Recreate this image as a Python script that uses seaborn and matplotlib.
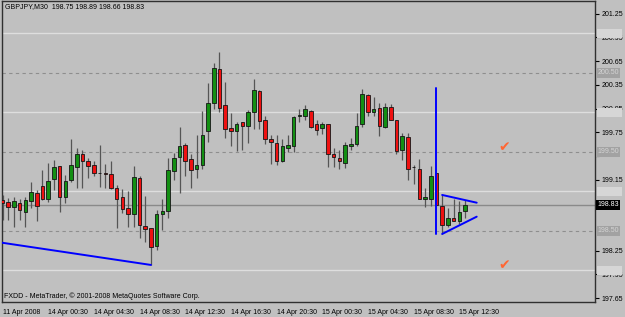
import numpy as np
import pandas as pd
import matplotlib
matplotlib.use("Agg")
import matplotlib.pyplot as plt
import seaborn as sns
from matplotlib import font_manager
from matplotlib.patches import Rectangle

# ---------------- data (GBPJPY M30) ----------------
opens = [
    198.89, 198.87, 198.80, 198.85, 198.74, 198.88, 198.98, 199.07, 198.90, 199.16,
    199.32, 198.93, 199.14, 199.31, 199.48, 199.39, 199.33, 199.23, 199.23, 199.22,
    199.05, 198.93, 198.79, 198.71, 199.17, 198.56, 198.54, 198.31, 198.72, 198.75,
    199.26, 199.44, 199.59, 199.41, 199.28, 199.33, 199.77, 200.12, 200.55, 200.10,
    199.80, 199.77, 199.88, 199.83, 200.00, 200.27, 199.90, 199.67, 199.61, 199.39,
    199.55, 199.58, 199.96, 199.96, 200.02, 199.86, 199.80, 199.85, 199.47, 199.43,
    199.36, 199.57, 199.60, 199.85, 200.22, 200.01, 200.06, 199.81, 200.07, 199.90,
    199.52, 199.69, 199.31, 199.29, 198.90, 198.91, 199.23, 198.82, 198.57, 198.67,
    198.62, 198.75]
highs = [
    198.96, 198.92, 198.93, 198.91, 198.93, 199.12, 199.02, 199.27, 199.36, 199.40,
    199.32, 199.21, 199.67, 199.55, 199.53, 199.42, 199.38, 199.59, 199.35, 199.38,
    199.08, 199.03, 199.01, 199.32, 199.20, 198.94, 198.54, 198.77, 198.91, 199.42,
    199.49, 199.81, 199.61, 199.48, 199.72, 200.02, 200.37, 200.62, 200.76, 200.39,
    199.99, 199.88, 199.88, 200.03, 200.42, 200.29, 199.96, 199.72, 199.72, 199.67,
    199.72, 199.96, 200.04, 200.10, 200.03, 199.91, 199.88, 199.86, 199.55, 199.53,
    199.63, 199.68, 199.99, 200.30, 200.24, 200.19, 200.12, 200.12, 200.11, 199.91,
    199.74, 199.74, 199.34, 199.41, 199.04, 199.32, 199.23, 198.96, 198.79, 198.91,
    198.88, 198.89]
lows = [
    198.64, 198.64, 198.55, 198.64, 198.55, 198.79, 198.62, 198.89, 198.87, 199.02,
    198.74, 198.85, 199.12, 199.04, 199.04, 199.17, 199.20, 199.06, 199.04, 199.03,
    198.54, 198.73, 198.55, 198.55, 198.41, 198.36, 198.07, 198.26, 198.51, 198.66,
    199.15, 198.98, 199.20, 199.04, 199.17, 199.29, 199.63, 200.04, 200.01, 199.68,
    199.58, 199.51, 199.53, 199.61, 199.79, 199.79, 199.60, 199.35, 199.34, 199.37,
    199.50, 199.50, 199.88, 199.91, 199.80, 199.72, 199.73, 199.31, 199.31, 199.29,
    199.30, 199.53, 199.58, 199.82, 199.96, 199.95, 199.70, 199.80, 199.90, 199.47,
    199.40, 199.15, 199.10, 198.90, 198.80, 198.81, 198.83, 198.46, 198.55, 198.62,
    198.59, 198.66]
closes = [
    198.86, 198.80, 198.88, 198.76, 198.89, 198.99, 198.81, 198.91, 199.13, 199.31,
    198.93, 199.13, 199.34, 199.47, 199.39, 199.32, 199.24, 199.23, 199.22, 199.04,
    198.91, 198.78, 198.72, 199.18, 198.57, 198.53, 198.30, 198.72, 198.75, 199.27,
    199.43, 199.58, 199.39, 199.27, 199.34, 199.71, 200.12, 200.56, 200.06, 199.79,
    199.76, 199.86, 199.83, 200.01, 200.29, 199.89, 199.67, 199.62, 199.39, 199.58,
    199.59, 199.94, 199.97, 200.04, 199.82, 199.78, 199.86, 199.48, 199.44, 199.39,
    199.59, 199.60, 199.83, 200.24, 200.00, 200.05, 199.83, 200.07, 199.91, 199.51,
    199.70, 199.29, 199.31, 198.90, 198.93, 199.19, 198.83, 198.58, 198.66, 198.63,
    198.74, 198.83]

time_label_bars = [0, 8, 16, 24, 32, 40, 48, 56, 64, 72, 80]
time_labels = ["11 Apr 2008", "14 Apr 00:30", "14 Apr 04:30", "14 Apr 08:30",
               "14 Apr 12:30", "14 Apr 16:30", "14 Apr 20:30", "15 Apr 00:30",
               "15 Apr 04:30", "15 Apr 08:30", "15 Apr 12:30"]
price_ticks = [201.25, 200.95, 200.65, 200.35, 200.05, 199.75, 199.45,
               199.15, 198.85, 198.55, 198.25, 197.95, 197.65]
# tick labels fully hidden behind the price boxes of the level lines
hidden_tick_labels = [199.45, 198.85, 198.55]

solid_levels = [201.00, 200.00, 199.00, 198.00]
dashed_levels = [200.50, 199.50, 198.50]
bid_price = 198.83

# drawn objects (trend line, vertical line, triangle)
obj_ids = ["trend", "trend", "vline", "vline", "tri_up", "tri_up", "tri_lo", "tri_lo"]
obj_bars = [-0.14, 26.0, 76.0, 76.0, 77.0, 83.05, 77.0, 83.05]
obj_prices = [198.352, 198.07, 198.462, 200.31, 198.956, 198.858, 198.462, 198.681]

check_bars = [87.8, 87.8]
check_prices = [199.56, 198.07]

title_text = "GBPJPY,M30  198.75 198.89 198.66 198.83"
footer_text = "FXDD - MetaTrader, \u00a9 2001-2008 MetaQuotes Software Corp."

# ---------------- styling ----------------
BG = "#c0c0c0"
GREEN = "#138f13"
RED = "#ee1111"
WICK = "#555555"

sns.set_theme(style="white", rc={"axes.facecolor": BG, "figure.facecolor": BG})
names = {f.name for f in font_manager.fontManager.ttflist}
if "Liberation Sans Narrow" in names:
    FONT, FS = "Liberation Sans Narrow", 6.0
else:
    FONT, FS = "Liberation Sans", 5.0
plt.rcParams["font.family"] = [FONT, "DejaVu Sans"]

fig = plt.figure(figsize=(6.25, 3.17), dpi=100)
fig.patch.set_facecolor(BG)
ax = fig.add_axes([2 / 625, 15 / 317, 593 / 625, 301 / 317])
ax.set_facecolor(BG)
ax.grid(False)

o = np.array(opens); h = np.array(highs); l = np.array(lows); c = np.array(closes)
bars = np.arange(len(o))

# horizontal level lines
for p in solid_levels:
    ax.axhline(p, color="#dedede", lw=1.0, zorder=1)
for p in dashed_levels:
    ax.axhline(p, color="#8e8e8e", lw=0.8, ls=(0, (3, 3)), zorder=1)
ax.axhline(bid_price, color="#8a8a8a", lw=1.0, zorder=1)

# candles
up = c >= o
ax.vlines(bars, l, h, color=WICK, lw=0.9, zorder=3)
ax.bar(bars, np.abs(c - o), bottom=np.minimum(o, c), width=0.62,
       color=np.where(up, GREEN, RED), edgecolor="#151515", linewidth=0.6, zorder=4)

# drawn objects through seaborn
objs = pd.DataFrame({"obj": obj_ids, "bar": obj_bars, "price": obj_prices})
sns.lineplot(data=objs, x="bar", y="price", units="obj", estimator=None, sort=False,
             color="#0000ff", lw=1.4, ax=ax, legend=False, zorder=5)

for xb, yp in zip(check_bars, check_prices):
    ax.text(xb, yp, "\u2714", color="#ff6633", fontsize=10, ha="center", va="center",
            family="DejaVu Sans", zorder=6)

ax.set_xlim(-0.09, 103.77)
ax.set_ylim(197.601, 201.411)
ax.set_xlabel("")
ax.set_ylabel("")

# axes / ticks
ax.yaxis.tick_right()
ax.set_yticks(price_ticks,
              labels=["" if p in hidden_tick_labels else f"{p:.2f}" for p in price_ticks])
ax.tick_params(axis="y", length=3, width=0.8, pad=1.5, labelsize=FS, colors="black", direction="out")
ax.set_xticks(time_label_bars, labels=time_labels)
ax.tick_params(axis="x", length=4, width=0.8, pad=1, labelsize=FS, colors="black", direction="out")
for t in ax.get_xticklabels():
    t.set_ha("left")
for s in ax.spines.values():
    s.set_color("#303030")
    s.set_linewidth(1.0)
    s.set_visible(True)

# right-axis price boxes
ytr = ax.get_yaxis_transform()
def price_box(p, fc, tc):
    ax.text(1.004, p, f"{p:.2f}", transform=ytr, ha="left", va="center", fontsize=FS,
            color=tc, bbox=dict(boxstyle="square,pad=0.18", fc=fc, ec="none"),
            clip_on=False, zorder=10)

# light level lines: their scale labels are light-on-light bands
for p in solid_levels:
    ax.add_patch(Rectangle((1.003, p - 0.062), 0.043, 0.124, transform=ytr,
                           fc="#d6d6d6", ec="none", clip_on=False, zorder=10))
for p in dashed_levels:
    price_box(p, "#a2a2a2", "#d4d4d4")
price_box(bid_price, "#000000", "#ffffff")

fig.text(5 / 625, 1 - 7 / 317, title_text, fontsize=FS, color="black", ha="left", va="center")
fig.text(4 / 625, 1 - 296 / 317, footer_text, fontsize=FS, color="black", ha="left", va="center")

fig.savefig("out.png", dpi=100, facecolor=BG)
